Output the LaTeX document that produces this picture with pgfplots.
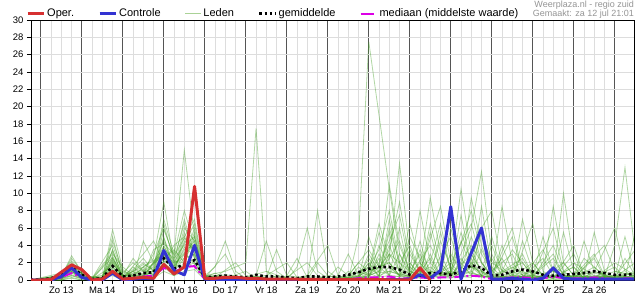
\documentclass[border=0pt]{standalone}
\usepackage{pgfplots}
\pgfplotsset{compat=1.18}
\usepackage{fontspec}
\setmainfont{Liberation Sans}
\definecolor{oper}{RGB}{214,48,49}
\definecolor{ctrl}{RGB}{51,51,210}
\definecolor{led}{RGB}{70,160,40}
\definecolor{ledleg}{RGB}{170,210,150}
\definecolor{med}{RGB}{220,0,230}
\definecolor{darkgrid}{RGB}{85,85,85}
\definecolor{lightgrid}{RGB}{221,221,221}
\pgfplotsset{member/.style={color=led, opacity=0.42, line width=0.8pt, forget plot}}
\begin{document}
\begin{tikzpicture}
\useasboundingbox (0,0) rectangle (635pt,300pt);
\begin{axis}[
  at={(31pt,20pt)}, anchor=south west,
  scale only axis, width=603pt, height=260pt,
  xmin=-0.24, xmax=14.47, ymin=0, ymax=30,
  axis line style={black, line width=0.8pt},
  xtick={0,...,14}, xticklabels={},
  minor x tick num=3,
  xmajorgrids, xminorgrids, ymajorgrids,
  major x grid style={color=darkgrid, line width=0.9pt},
  minor x grid style={color=lightgrid, line width=0.8pt},
  major y grid style={color=lightgrid, line width=0.8pt},
  ytick={0,2,...,30},
  tick pos=left, tick align=outside,
  major tick length=4pt, minor tick length=4pt,
  tick style={black, line width=0.6pt},
  extra x ticks={0.5,1.5,...,13.5},
  extra x tick labels={Zo 13,Ma 14,Di 15,Wo 16,Do 17,Vr 18,Za 19,Zo 20,Ma 21,Di 22,Wo 23,Do 24,Vr 25,Za 26},
  extra x tick style={grid=none, major tick length=0pt},
  xticklabel style={yshift=-3pt},
  tick label style={font=\fontsize{9.5}{11}\selectfont},
  /pgf/number format/assume math mode=true,
  legend columns=5,
  legend style={at={(0,1)}, anchor=west, xshift=-5pt, yshift=6.5pt, draw=none, fill=none,
    inner sep=0pt, font=\fontsize{11}{12}\selectfont,
    /tikz/every even column/.append style={column sep=22pt}},
  legend cell align=left,
  legend image code/.code={\draw[#1] (0pt,0pt) -- (16pt,0pt);},
]
% ---- ensemble members (Leden) ----
\addplot[member] coordinates {(-0.25,0)(0.5,0.2)(0.75,1.0)(1,0.3)(1.5,0)(1.75,2.5)(2,0.5)(2.5,1.5)(3,3.0)(3.25,1.0)(3.5,2.5)(3.75,3.0)(4,0.2)(5,0)(7.5,0)(7.75,5.0)(8,27.5)(8.25,19)(8.5,10.5)(8.75,3)(9,0.5)(9.25,3.5)(9.5,1)(10,0.5)(10.25,2)(10.5,0.5)(11,0.3)(11.5,1.5)(12,0.2)(13,0)(13.5,0.8)(14,0.2)(14.5,0.5)};
\addplot[member] coordinates {(-0.25,0)(0.5,0)(0.75,2.0)(1,0.5)(1.5,0.2)(1.75,3.5)(2,0.3)(2.25,1.0)(2.5,0.5)(2.75,2.0)(3,4.5)(3.25,1.5)(3.5,6.0)(3.75,4.5)(4,0.5)(4.5,1.0)(5,2.0)(5.25,17.5)(5.5,1.0)(6,0.2)(6.5,0)(7.5,0.3)(8,1.5)(8.25,3.5)(8.5,8.0)(8.75,2.0)(9,0.5)(9.5,4.0)(9.75,1.5)(10,0.5)(10.5,3.0)(10.75,1.0)(11,0.2)(11.75,2.0)(12,0.5)(12.5,0.3)(13,1.5)(13.25,0.2)(14,0)(14.5,0.5)};
\addplot[member] coordinates {(-0.25,0)(0.5,0.3)(0.75,1.5)(1,0.2)(1.5,0)(1.75,1.5)(2,0.2)(2.5,0.8)(2.75,1.5)(3,7.0)(3.25,3.0)(3.5,15)(3.75,5.0)(4,0.5)(4.25,0.3)(4.75,2.0)(5,0.5)(6,0)(7,0)(7.5,0.5)(7.75,2.0)(8,1.0)(8.25,6.5)(8.5,2.5)(8.75,13.5)(9,3.0)(9.25,1.0)(9.5,2.5)(9.75,0.5)(10.25,1.0)(10.5,5.0)(10.75,2.0)(11,0.5)(11.5,0.3)(12,1.0)(12.5,0.2)(13,0.5)(13.5,3.0)(13.75,0.5)(14.25,0.3)(14.5,0.2)};
\addplot[member] coordinates {(-0.25,0)(0.5,0.5)(0.75,2.5)(1,1.0)(1.25,0.2)(1.75,4.0)(2,0.8)(2.25,2.0)(2.5,1.0)(2.75,0.5)(3,3.5)(3.25,1.0)(3.5,3.0)(3.75,2.0)(4,0.2)(4.5,0.5)(4.75,0.2)(5.5,0.3)(5.75,3.5)(6,0.5)(6.5,0.2)(7,0)(7.75,0.5)(8,2.0)(8.25,0.5)(8.5,3.0)(9,1.0)(9.25,8.0)(9.5,2.0)(9.75,0.5)(10,3.0)(10.25,1.0)(10.75,0.5)(11,4.0)(11.25,1.0)(11.75,0.3)(12.25,2.5)(12.5,0.5)(13,0.2)(13.5,1.5)(13.75,0.3)(14,4.0)(14.25,13.0)(14.5,3.0)};
\addplot[member] coordinates {(-0.25,0)(0.25,0.3)(0.5,0.2)(0.75,0.8)(1,0.2)(1.5,0.5)(1.75,2.0)(2,0.2)(2.5,3.0)(2.75,4.5)(3,2.0)(3.25,4.0)(3.5,5.0)(3.75,7.0)(4,0.3)(4.5,0)(6,0)(6.25,1.5)(6.5,6.0)(6.75,1.0)(7,0.2)(7.5,0)(8,0.5)(8.25,1.0)(8.5,4.0)(8.75,1.0)(9,0.3)(9.5,1.5)(9.75,0.5)(10,1.0)(10.25,3.0)(10.5,6.0)(10.75,12.5)(11,3.0)(11.25,0.5)(11.5,1.0)(12,0.2)(12.5,0.5)(13,0.2)(13.25,1.0)(13.5,0.2)(14,0.3)(14.5,1.0)};
\addplot[member] coordinates {(-0.25,0)(0.5,0.2)(0.75,1.2)(1,0.5)(1.25,0)(1.75,3.0)(2,1.5)(2.25,0.5)(2.75,2.5)(3,9.0)(3.25,2.0)(3.5,7.0)(3.75,3.0)(4,0.5)(4.25,1.5)(4.5,4.5)(4.75,1.0)(5,0.2)(5.5,0)(7,0)(7.25,0.5)(7.5,3.0)(7.75,0.5)(8,1.0)(8.5,2.0)(8.75,0.5)(9,2.0)(9.25,0.5)(9.5,1.0)(9.75,4.5)(10,1.5)(10.25,10.5)(10.5,3.0)(10.75,1.0)(11,0.3)(11.5,5.0)(11.75,1.0)(12,0.3)(12.5,0)(13,0.5)(13.5,0.2)(14,2.0)(14.5,0.5)};
\addplot[member] coordinates {(-0.25,0)(0.5,0)(0.75,0.5)(1,0.2)(1.5,0.3)(1.75,5.0)(2,0.5)(2.25,2.5)(2.5,1.0)(2.75,3.0)(3,6.0)(3.25,2.5)(3.5,4.0)(3.75,5.0)(4,0.2)(5,0)(5.25,0.5)(5.5,4.5)(5.75,1.0)(6,0.2)(6.5,0)(7.25,0)(7.5,0.5)(8,3.5)(8.25,1.5)(8.5,11.0)(8.75,4.0)(9,1.0)(9.25,0.5)(9.5,6.5)(9.75,2.0)(10,0.5)(10.5,8.0)(10.75,3.0)(11,1.0)(11.25,2.5)(11.5,0.5)(12,0.2)(12.5,4.0)(12.75,1.0)(13,0.2)(13.75,0.5)(14,0.2)(14.5,0.3)};
\addplot[member] coordinates {(-0.25,0)(0.5,0.8)(0.75,2.2)(1,0.8)(1.25,0.3)(1.5,0.5)(1.75,2.5)(2,0.5)(2.25,0.3)(2.5,1.5)(2.75,0.5)(3,4.0)(3.25,1.5)(3.5,3.5)(3.75,4.0)(4,0.3)(4.25,0.2)(5,0.3)(5.5,0.5)(6,2.0)(6.25,0.3)(6.75,0.2)(7,0)(7.75,0.3)(8,1.5)(8.25,0.5)(8.5,6.0)(8.75,2.0)(9,4.0)(9.25,1.0)(9.75,8.5)(10,2.0)(10.25,0.5)(10.5,1.5)(11,0.5)(11.25,8.5)(11.5,2.0)(11.75,0.5)(12.25,0.3)(12.75,2.0)(13,0.5)(13.5,0.3)(14,1.5)(14.25,0.3)(14.5,0.2)};
\addplot[member] coordinates {(-0.25,0)(0.25,0.2)(0.75,1.5)(1,0.5)(1.25,0)(1.5,0.2)(1.75,3.5)(2,0.2)(2.5,2.0)(2.75,1.0)(3,5.0)(3.25,1.0)(3.5,5.5)(3.75,2.5)(4,0.5)(4.5,0.2)(5,0)(6.5,0)(6.75,8.0)(7,1.0)(7.25,0.2)(7.75,0)(8,0.5)(8.25,2.5)(8.5,0.5)(8.75,6.0)(9,0.5)(9.25,2.0)(9.5,0.5)(10,5.0)(10.25,1.0)(10.5,9.5)(10.75,4.0)(11,0.5)(11.5,0.2)(11.75,4.5)(12,1.0)(12.5,0.5)(12.75,10.0)(13,2.0)(13.25,0.5)(13.5,5.5)(13.75,1.0)(14,0.3)(14.5,0.5)};
\addplot[member] coordinates {(-0.25,0)(0.5,0.2)(0.75,0.5)(1,0.1)(1.5,0)(1.75,1.0)(2,0.2)(2.25,1.5)(2.5,0.5)(2.75,1.0)(3,2.5)(3.25,3.5)(3.5,2.0)(3.75,5.5)(4,0.2)(4.5,3.0)(4.75,0.5)(5,0.2)(5.5,0)(6,0.3)(6.5,2.0)(6.75,0.5)(7,0)(7.5,0)(7.75,1.0)(8,0.5)(8.25,1.0)(8.5,3.5)(8.75,9.0)(9,2.0)(9.25,0.5)(9.5,0.3)(9.75,2.0)(10,0.5)(10.5,0.3)(10.75,6.0)(11,8.0)(11.25,1.5)(11.5,0.3)(12,2.0)(12.25,0.5)(12.5,0.2)(13,3.0)(13.25,0.5)(13.5,0.2)(14,0.5)(14.25,0.2)(14.5,5.5)};
\addplot[member] coordinates {(-0.25,0)(0.5,0)(0.75,0.3)(1,0)(1.5,0)(1.75,1.8)(2,0.5)(2.5,0.5)(3,1.5)(3.25,0.5)(3.5,2.0)(3.75,1.5)(4,0.1)(5,0)(5.25,0.3)(5.5,0.2)(6,0)(7,0.2)(7.25,1.5)(7.5,0.5)(8,0.3)(8.25,4.0)(8.5,1.5)(8.75,0.5)(9,6.5)(9.25,2.0)(9.5,0.5)(9.75,0.2)(10,1.0)(10.25,5.5)(10.5,2.0)(10.75,0.5)(11,0.2)(11.5,0.5)(11.75,7.0)(12,2.0)(12.25,0.5)(12.5,8.5)(12.75,2.0)(13,0.5)(13.5,0.2)(14,0.5)(14.5,0.3)};
\addplot[member] coordinates {(-0.25,0)(0.5,0.3)(0.75,1.8)(1,0.7)(1.25,0)(1.5,0.3)(1.75,2.2)(2,0.4)(2.25,0.2)(2.5,4.5)(2.75,2.0)(3,3.0)(3.25,0.8)(3.5,4.5)(3.75,3.5)(4,0.3)(4.25,0.5)(4.5,0.2)(5,1.0)(5.25,0.2)(5.75,0)(6.25,0)(6.5,0.5)(7,4.0)(7.25,0.5)(7.5,0.2)(8,0.2)(8.5,0.5)(8.75,3.0)(9,1.0)(9.5,0.3)(9.75,1.0)(10,0.3)(10.5,4.0)(10.75,2.0)(11,0.3)(11.5,0.2)(12,6.5)(12.25,1.0)(12.5,0.3)(13,0.2)(13.25,4.5)(13.5,1.0)(14,0.2)(14.25,2.5)(14.5,0.5)};
\addplot[member] coordinates {(-0.25,0)(0.25,0.2)(0.5,0.5)(0.75,1.0)(1,0.3)(1.5,0)(1.75,1.2)(2,0.3)(2.5,0.2)(2.75,1.2)(3,6.5)(3.25,2.0)(3.5,2.5)(3.75,6.0)(4,0.3)(4.5,0.3)(5,0)(5.5,0)(5.75,0.5)(6,0.2)(7,0)(7.5,0.3)(7.75,0.2)(8,2.0)(8.25,0.3)(8.5,7.0)(8.75,1.5)(9,0.3)(9.25,4.5)(9.5,0.5)(9.75,1.0)(10,0.5)(10.25,7.5)(10.5,1.5)(10.75,0.5)(11,2.5)(11.25,0.5)(11.5,0.3)(12,0.3)(12.25,0.2)(12.75,0.5)(13,0.2)(13.5,2.5)(13.75,0.3)(14,0.2)(14.5,0.3)};
\addplot[member] coordinates {(-0.25,0)(0.5,0)(0.75,0.2)(1,0)(1.75,0.5)(2,0)(2.75,0.2)(3,1.0)(3.25,0.5)(3.5,1.0)(3.75,1.2)(4,0)(8,0)(8.25,0.5)(8.5,1.0)(9,0.2)(9.5,0.5)(10,0.2)(10.5,1.5)(11,0.2)(12,0.5)(12.5,0.2)(13,0.5)(14,0.2)(14.5,0.2)};
\addplot[member] coordinates {(-0.25,0)(0.5,0.1)(0.75,0.6)(1,0.2)(1.5,0.1)(1.75,4.5)(2,1.0)(2.25,0.5)(2.5,0.3)(2.75,2.0)(3,3.5)(3.25,2.5)(3.5,6.5)(3.75,2.5)(4,0.2)(4.25,0)(6,0)(6.25,0.3)(6.5,0.5)(7,0.2)(7.5,0)(8,0.2)(8.25,3.0)(8.5,0.5)(9,0.3)(9.25,1.5)(9.5,9.5)(9.75,3.0)(10,0.5)(10.25,0.3)(10.5,2.0)(10.75,0.5)(11,0.3)(11.25,4.0)(11.5,1.0)(11.75,0.3)(12.25,3.5)(12.5,1.0)(12.75,0.5)(13,0.2)(13.75,4.0)(14,1.0)(14.5,0.5)};
\addplot[member] coordinates {(-0.25,0)(0.5,0.5)(0.75,1.6)(1,0.4)(1.25,0.1)(1.5,0.2)(1.75,2.8)(2,0.3)(2.25,0.8)(2.5,1.2)(2.75,0.6)(3,4.8)(3.25,1.8)(3.5,3.0)(3.75,4.5)(4,0.4)(4.25,0.3)(4.5,0)(7.5,0)(7.75,0.5)(8,1.0)(8.5,2.0)(8.75,0.5)(9,0.5)(9.25,1.0)(9.5,0.3)(10,1.5)(10.25,0.5)(10.5,0.5)(10.75,3.5)(11,1.0)(11.5,3.0)(11.75,0.5)(12,0.2)(12.5,1.0)(13,0.2)(14,0.3)(14.5,0.2)};
\addplot[member] coordinates {(-0.25,0)(0.5,0.2)(0.75,1.0)(1,0.3)(1.5,0)(1.75,0.8)(2,0)(2.25,0.3)(2.75,0.5)(3,2.0)(3.25,1.0)(3.5,1.5)(3.75,2.0)(4,0.2)(4.5,0.3)(5,0.2)(5.5,0.5)(6,0.2)(6.5,0)(7.5,0)(7.75,0.3)(8,5.0)(8.25,1.5)(8.5,0.5)(9,0.3)(9.25,0.5)(9.5,3.0)(9.75,0.5)(10,0.3)(10.5,0.5)(11,0.3)(11.25,0.2)(12,0.5)(12.5,2.5)(12.75,0.5)(13,0.3)(13.5,0.2)(14,0.5)(14.5,0.3)};
\addplot[member] coordinates {(-0.25,0)(0.25,0.3)(0.5,0.6)(0.75,1.3)(1,0.6)(1.25,0.1)(1.75,1.6)(2,0.2)(2.5,0.3)(2.75,1.8)(3,3.2)(3.25,1.2)(3.5,3.8)(3.75,2.8)(4,0.6)(4.25,0.2)(5,0.3)(5.25,0.2)(6.5,0)(7,0.5)(7.25,0.2)(8,0.3)(8.25,0.5)(8.5,5.5)(8.75,0.8)(9,0.3)(9.75,0.5)(10,6.0)(10.25,1.5)(10.5,0.8)(11,0.3)(11.5,0.5)(12,0.3)(12.5,0.5)(12.75,5.5)(13,1.0)(13.25,0.3)(13.5,0.5)(14,0.3)(14.25,5.0)(14.5,0.5)};
\addplot[member] coordinates {(-0.25,0)(0.5,0.1)(0.75,0.9)(1,0.3)(1.5,0)(1.75,2.0)(2,0.4)(2.5,1.0)(3,2.8)(3.25,0.8)(3.5,5.0)(3.75,3.2)(4,0.1)(5,0)(7.75,0)(8,0.8)(8.25,0.3)(8.5,1.5)(8.75,0.5)(9,3.5)(9.25,0.8)(9.5,0.3)(9.75,5.5)(10,1.0)(10.25,0.5)(10.5,1.0)(10.75,0.3)(11,0.5)(11.5,6.0)(11.75,1.0)(12,0.5)(12.25,0.3)(12.5,0.2)(13,4.0)(13.25,0.5)(14,0.3)(14.5,2.0)};
\addplot[member] coordinates {(-0.25,0)(0.5,0.3)(0.75,1.1)(1,0.2)(1.5,0.2)(1.75,1.4)(2,0.1)(2.25,0.6)(2.5,0.4)(3,3.8)(3.25,2.2)(3.5,2.0)(3.75,5.0)(4,0.2)(4.5,0.1)(5,0)(7,0)(7.5,0.2)(7.75,0.5)(8,2.5)(8.25,0.8)(8.5,1.0)(9,0.4)(9.25,0.2)(9.5,1.0)(10,0.3)(10.25,2.5)(10.5,1.0)(10.75,8.5)(11,1.5)(11.25,0.3)(12,0.2)(12.25,0.5)(12.5,1.5)(13,0.3)(13.5,1.0)(14,0.2)(14.5,0.3)};
\addplot[member] coordinates {(-0.25,0)(0.5,0.4)(0.75,2.8)(1,0.9)(1.25,0.2)(1.75,3.2)(2,0.6)(2.25,1.2)(2.5,2.5)(2.75,1.0)(3,5.8)(3.25,2.8)(3.5,4.8)(3.75,3.8)(4,0.4)(4.5,0.6)(5,0.3)(5.5,1.0)(5.75,0.2)(6.5,0)(7.5,0.2)(7.75,1.5)(8,0.5)(8.25,2.0)(8.5,4.5)(8.75,7.5)(9,1.5)(9.25,0.5)(9.5,5.5)(9.75,1.0)(10,2.0)(10.5,6.5)(10.75,2.0)(11,0.5)(11.25,1.0)(11.5,3.5)(12,0.5)(12.25,5.0)(12.5,1.0)(13,0.3)(13.25,2.5)(13.75,0.5)(14,1.0)(14.5,0.5)};
\addplot[member] coordinates {(-0.25,0)(0.5,0.6)(0.75,1.2)(1,0.5)(1.5,0.2)(1.75,5.8)(2,1.2)(2.25,0.3)(2.5,0.5)(2.75,3.5)(3,4.2)(3.25,3.0)(3.5,8.0)(3.75,4.0)(4,0.3)(4.25,0.8)(4.5,0.3)(5,0)(6.5,0)(6.75,2.0)(7,0.5)(7.5,0)(8,0.5)(8.25,1.5)(8.5,3.0)(8.75,1.0)(9,5.0)(9.25,2.5)(9.5,0.5)(10,1.0)(10.25,4.5)(10.5,1.5)(10.75,5.5)(11,2.0)(11.5,0.3)(12,0.5)(12.5,3.0)(12.75,0.5)(13.25,0.3)(13.5,1.0)(14,6.0)(14.25,1.0)(14.5,0.3)};
\addplot[member] coordinates {(-0.25,0)(0.5,0.2)(0.75,1.4)(1,0.4)(1.5,0.3)(1.75,2.3)(2,0.2)(2.5,0.6)(2.75,0.8)(3,2.2)(3.25,1.6)(3.5,3.2)(3.75,1.8)(4,0.1)(4.25,0.5)(4.75,0)(7.25,0)(7.5,1.0)(7.75,0.3)(8,0.8)(8.25,5.5)(8.5,2.0)(8.75,0.5)(9,1.0)(9.25,3.0)(9.5,0.5)(10,0.8)(10.25,0.3)(10.5,3.5)(10.75,1.0)(11,5.0)(11.25,1.0)(11.75,2.5)(12,0.5)(12.5,0.3)(13,1.5)(13.25,0.2)(13.75,0.5)(14,0.3)(14.5,3.5)};
\addplot[member] coordinates {(-0.25,0)(0.25,0.1)(0.5,0.4)(0.75,1.7)(1,0.8)(1.25,0.2)(1.75,2.6)(2,0.3)(2.25,1.0)(2.5,1.8)(2.75,1.2)(3,3.0)(3.25,2.0)(3.5,4.2)(3.75,6.5)(4,0.5)(4.25,0.2)(5,0)(5.75,0)(6,0.5)(6.25,2.5)(6.5,0.3)(7,0)(7.75,0.2)(8,3.0)(8.25,1.0)(8.5,2.5)(8.75,4.5)(9,1.0)(9.25,0.3)(9.5,2.0)(9.75,6.5)(10,1.0)(10.25,0.5)(10.5,2.5)(10.75,0.5)(11,1.0)(11.25,0.3)(11.5,0.8)(11.75,3.0)(12,0.5)(12.5,6.0)(12.75,1.0)(13,2.0)(13.5,0.5)(14,0.3)(14.5,0.8)};
% ---- median ----
\addplot[forget plot, color=med, line width=2pt, dash pattern=on 9pt off 3pt on 2pt off 3pt] coordinates {
(-0.25,0)(0,0)(0.25,0.1)(0.5,0.3)(0.75,0.8)(1,0.3)(1.25,0)(1.5,0.1)(1.75,0.9)(2,0.1)(2.25,0.2)(2.5,0.4)(2.75,0.5)(3,1.4)(3.25,0.9)(3.5,1.5)(3.75,1.6)(4,0.1)(4.25,0.1)(4.5,0.1)(5,0)(6,0)(7,0.05)(7.5,0.1)(7.75,0.2)(8,0.3)(8.25,0.3)(8.5,0.4)(8.75,0.2)(9,0.2)(9.25,0.3)(9.5,0.2)(9.75,0.3)(10,0.3)(10.25,0.4)(10.5,0.5)(10.75,0.4)(11,0.1)(11.25,0.2)(11.5,0.3)(11.75,0.3)(12,0.2)(12.25,0.2)(12.5,0.4)(12.75,0.2)(13,0.2)(13.25,0.2)(13.5,0.3)(13.75,0.2)(14,0.1)(14.25,0.2)(14.5,0.2)};
% ---- mean ----
\addplot[forget plot, color=black, line width=2.6pt, dash pattern=on 2.6pt off 2.6pt] coordinates {
(-0.25,0.05)(0,0.05)(0.25,0.2)(0.5,0.6)(0.75,1.5)(1,0.6)(1.25,0.1)(1.5,0.2)(1.75,1.6)(2,0.4)(2.25,0.5)(2.5,0.8)(2.75,0.9)(3,2.5)(3.25,1.3)(3.5,1.8)(3.75,2.3)(4,0.3)(4.25,0.4)(4.5,0.5)(4.75,0.4)(5,0.3)(5.25,0.6)(5.5,0.4)(5.75,0.4)(6,0.3)(6.25,0.2)(6.5,0.4)(6.75,0.4)(7,0.3)(7.25,0.4)(7.5,0.6)(7.75,0.9)(8,1.3)(8.25,1.5)(8.5,1.5)(8.75,1.2)(9,0.6)(9.25,0.5)(9.5,0.8)(9.75,0.8)(10,0.6)(10.25,1.0)(10.5,1.7)(10.75,1.4)(11,0.5)(11.25,0.6)(11.5,1.0)(11.75,1.2)(12,1.0)(12.25,0.6)(12.5,0.5)(12.75,0.6)(13,0.7)(13.25,0.8)(13.5,1.0)(13.75,0.8)(14,0.6)(14.25,0.6)(14.5,0.7)};
% ---- control ----
\addplot[forget plot, color=ctrl, line width=3pt, line join=round] coordinates {
(-0.25,0)(0,0)(0.25,0)(0.5,0.4)(0.75,1.4)(1,0.3)(1.25,0)(1.5,0)(1.75,0.8)(2,0)(2.25,0.1)(2.5,0.2)(2.75,0.2)(3,3.4)(3.25,1.1)(3.5,0.6)(3.75,4.0)(4,0.1)(4.5,0.05)(5,0.05)(6,0.05)(7,0.05)(8,0.05)(8.75,0.05)(9,0.1)(9.25,0.6)(9.5,0.2)(9.75,1.1)(10,8.45)(10.25,0.1)(10.5,3.1)(10.75,6.0)(11,0.1)(11.25,0.1)(11.5,0.2)(11.75,0.1)(12,0)(12.25,0.2)(12.5,1.4)(12.75,0.2)(13,0.1)(14,0.1)(14.5,0.1)};
% ---- operational ----
\addplot[forget plot, color=oper, line width=3pt, line join=round] coordinates {
(-0.25,0)(0,0)(0.25,0.05)(0.5,0.9)(0.75,1.75)(1,1.2)(1.25,0)(1.5,0.1)(1.75,1.0)(2,0.1)(2.25,0.2)(2.5,0.3)(2.75,0.2)(3,1.8)(3.25,0.7)(3.5,1.5)(3.75,10.8)(4,0.2)(4.25,0.2)(4.5,0.3)(4.75,0.3)(5,0.2)(5.25,0.2)(5.5,0.1)(6,0.1)(7,0.05)(8,0.05)(9,0)(9.25,1.4)(9.5,0)};
% ---- legend ----
\addlegendimage{color=oper, line width=3pt}
\addlegendentry{Oper.}
\addlegendimage{color=ctrl, line width=3pt}
\addlegendentry{Controle}
\addlegendimage{color=ledleg, line width=0.8pt}
\addlegendentry{Leden}
\addlegendimage{color=black, line width=2.6pt, dash pattern=on 2.6pt off 2.6pt}
\addlegendentry{gemiddelde}
\addlegendimage{color=med, line width=2pt, dash pattern=on 13pt off 3pt on 1.5pt off 3pt}
\addlegendentry{mediaan (middelste waarde)}
\end{axis}
\node[anchor=south east, align=right, inner sep=0pt, text=black!42,
  font=\fontsize{9}{9.5}\selectfont] at (634pt,281pt) {Weerplaza.nl - regio zuid\\Gemaakt: za 12 jul 21:01};
\end{tikzpicture}
\end{document}
